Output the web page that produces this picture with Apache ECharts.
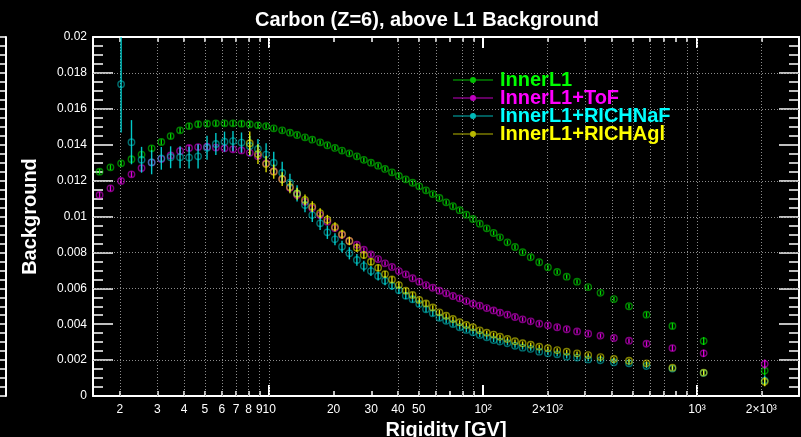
<!DOCTYPE html>
<html><head><meta charset="utf-8">
<script src="https://cdn.jsdelivr.net/npm/echarts@6/dist/echarts.min.js"></script>
<style>html,body{margin:0;padding:0;background:#000}#c{width:801px;height:437px}</style>
</head><body><div id="c"></div>
<script>
// ---------- DATA ----------
const rigidity = [
  1.61,1.81,2.03,2.27,2.53,2.82,3.13,3.46,3.83,4.22,
  4.65,5.12,5.63,6.18,6.77,7.42,8.11,8.86,9.67,10.5,
  11.5,12.5,13.5,14.7,15.9,17.3,18.7,20.3,21.9,23.7,
  25.7,27.7,29.9,32.3,34.8,37.5,40.4,43.5,46.8,50.3,
  54.1,58.2,62.5,67.2,72.3,77.7,83.5,89.7,96.5,104,
  112,120,130,141,153,167,183,201,222,246,
  275,310,354,409,481,581,768,1075,2074];

const bgInnerL1 = [
  0.01250,0.01274,0.01296,0.01319,0.01345,0.01380,0.01415,0.01448,0.01480,0.01504,
  0.01514,0.01517,0.01519,0.01519,0.01519,0.01517,0.01514,0.01508,0.01503,0.01491,
  0.01480,0.01467,0.01454,0.01441,0.01428,0.01413,0.01397,0.01382,0.01367,0.01352,
  0.01335,0.01316,0.01300,0.01283,0.01265,0.01246,0.01226,0.01207,0.01188,0.01168,
  0.01146,0.01125,0.01103,0.01079,0.01057,0.01035,0.01010,0.00986,0.00960,0.00934,
  0.00908,0.00884,0.00856,0.00830,0.00801,0.00773,0.00745,0.00717,0.00691,0.00665,
  0.00637,0.00607,0.00575,0.00540,0.00500,0.00453,0.00390,0.00306,0.00141];
const errInnerL1 = [
  0.00015,0.00015,0.00015,0.00015,0.00015,0.00015,0.00015,0.00015,0.00015,0.00015,
  0.00015,0.00015,0.00015,0.00015,0.00015,0.00015,0.00015,0.00015,0.00012,0.00012,
  0.00012,0.00012,0.00012,0.00012,0.00012,0.00012,0.00012,0.00012,0.00012,0.00012,
  0.00012,0.00012,0.00012,0.00012,0.00012,0.00012,0.00012,0.00012,0.00012,0.00012,
  0.00012,0.00012,0.00012,0.00012,0.00012,0.00012,0.00012,0.00012,0.00012,0.00012,
  0.00012,0.00012,0.00012,0.00012,0.00012,0.00012,0.00012,0.00012,0.00012,0.00012,
  0.00012,0.00012,0.00012,0.00012,0.00013,0.00014,0.00016,0.00022,0.00025];

const bgToF = [
  0.01120,0.01157,0.01198,0.01235,0.01270,0.01301,0.01320,0.01340,0.01365,0.01382,
  0.01387,0.01389,0.01384,0.01380,0.01374,0.01368,0.01355,0.01336,0.01296,0.01252,
  0.01209,0.01160,0.01120,0.01082,0.01046,0.01008,0.00971,0.00934,0.00897,0.00864,
  0.00843,0.00815,0.00789,0.00763,0.00739,0.00719,0.00696,0.00678,0.00656,0.00637,
  0.00618,0.00603,0.00587,0.00572,0.00557,0.00544,0.00529,0.00514,0.00503,0.00490,
  0.00477,0.00464,0.00453,0.00440,0.00427,0.00416,0.00403,0.00394,0.00383,0.00372,
  0.00360,0.00347,0.00336,0.00323,0.00308,0.00291,0.00267,0.00238,0.00178];
const errToF = [
  0.00016,0.00016,0.00016,0.00016,0.00016,0.00016,0.00016,0.00016,0.00016,0.00016,
  0.00016,0.00016,0.00016,0.00016,0.00016,0.00016,0.00016,0.00016,0.00014,0.00014,
  0.00013,0.00013,0.00013,0.00012,0.00012,0.00012,0.00012,0.00012,0.00012,0.00012,
  0.00012,0.00012,0.00012,0.00012,0.00012,0.00012,0.00012,0.00012,0.00012,0.00012,
  0.00012,0.00012,0.00012,0.00012,0.00012,0.00012,0.00012,0.00012,0.00012,0.00012,
  0.00012,0.00012,0.00012,0.00012,0.00012,0.00012,0.00012,0.00012,0.00012,0.00012,
  0.00012,0.00012,0.00012,0.00013,0.00013,0.00014,0.00016,0.00020,0.00026];

const bgNaF = [
  null,null,0.01737,0.01414,0.01316,0.01302,0.01324,0.01330,0.01330,0.01328,
  0.01335,0.01383,0.01404,0.01417,0.01420,0.01412,0.01393,0.01376,0.01345,0.01300,
  0.01244,0.01188,0.01129,0.01064,0.01008,0.00962,0.00912,0.00873,0.00832,0.00795,
  0.00758,0.00724,0.00696,0.00669,0.00642,0.00614,0.00589,0.00559,0.00539,0.00513,
  0.00483,0.00461,0.00436,0.00419,0.00401,0.00383,0.00368,0.00355,0.00340,0.00327,
  0.00312,0.00303,0.00294,0.00280,0.00269,0.00262,0.00247,0.00238,0.00232,0.00219,
  0.00214,0.00204,0.00199,0.00188,0.00182,0.00167,0.00153,0.00128,0.00086];
const errNaF = [
  null,null,0.00269,0.00123,0.00072,0.00067,0.00063,0.00061,0.00061,0.00061,
  0.00067,0.00067,0.00061,0.00056,0.00056,0.00056,0.00056,0.00056,0.00063,0.00061,
  0.00061,0.00050,0.00045,0.00040,0.00039,0.00037,0.00037,0.00033,0.00033,0.00034,
  0.00033,0.00030,0.00028,0.00025,0.00025,0.00022,0.00020,0.00020,0.00018,0.00017,
  0.00016,0.00015,0.00015,0.00014,0.00014,0.00013,0.00013,0.00012,0.00012,0.00012,
  0.00011,0.00011,0.00011,0.00011,0.00010,0.00010,0.00010,0.00010,0.00010,0.00010,
  0.00010,0.00010,0.00010,0.00010,0.00010,0.00011,0.00012,0.00015,0.00028];

const bgAgl = [
  null,null,null,null,null,null,null,null,null,null,
  null,null,null,null,null,null,0.01408,0.01348,0.01292,0.01250,
  0.01208,0.01164,0.01127,0.01092,0.01055,0.01018,0.00982,0.00942,0.00901,0.00864,
  0.00826,0.00786,0.00748,0.00714,0.00679,0.00649,0.00618,0.00587,0.00563,0.00535,
  0.00516,0.00493,0.00466,0.00447,0.00429,0.00411,0.00396,0.00383,0.00366,0.00353,
  0.00342,0.00330,0.00318,0.00305,0.00294,0.00286,0.00275,0.00266,0.00256,0.00247,
  0.00238,0.00228,0.00217,0.00206,0.00197,0.00182,0.00158,0.00130,0.00080];
const errAgl = [
  null,null,null,null,null,null,null,null,null,null,
  null,null,null,null,null,null,0.00065,0.00055,0.00045,0.00040,
  0.00038,0.00035,0.00033,0.00030,0.00030,0.00028,0.00027,0.00026,0.00025,0.00024,
  0.00022,0.00021,0.00020,0.00019,0.00018,0.00017,0.00016,0.00015,0.00015,0.00014,
  0.00014,0.00013,0.00013,0.00012,0.00012,0.00011,0.00011,0.00011,0.00011,0.00011,
  0.00011,0.00011,0.00010,0.00010,0.00010,0.00010,0.00010,0.00010,0.00010,0.00010,
  0.00010,0.00010,0.00010,0.00010,0.00010,0.00011,0.00012,0.00014,0.00025];

const seriesNames = ['InnerL1','InnerL1+ToF','InnerL1+RICHNaF','InnerL1+RICHAgl'];
const xTickValues = [2,3,4,5,6,7,8,9,10,20,30,40,50,60,70,80,90,100,200,300,400,500,600,700,800,900,1000,2000];
const xMajorTickValues = [10,100,1000];
const xLabelValues = [2,3,4,5,6,7,8,9,10,20,30,40,50,100,200,1000,2000];
const xLabelTexts = ['2','3','4','5','6','7','8','9','10','20','30','40','50','10\u00b2','2\u00d710\u00b2','10\u00b3','2\u00d710\u00b3'];
const xGridValues = [2,3,4,5,6,7,8,9,10,40,50,60,80,90,200,300,400,500,600,700,900,1000,2000];
const yGridValues = [0.002,0.006,0.008,0.010,0.012,0.016,0.018];
const xMin = 1.5, xMax = 3000;
const yMin = 0, yMax = 0.02, yStep = 0.002;

// ---------- STYLE ----------
const FONT = '"Liberation Sans", Arial, Helvetica, sans-serif';
const markColors = ['rgba(0,235,0,0.55)','rgba(235,0,235,0.55)','rgba(0,220,220,0.5)','rgba(235,235,0,0.55)'];
const barColors  = ['rgba(0,255,0,0.85)','rgba(255,0,255,0.85)','rgba(0,235,235,0.85)','rgba(255,255,0,0.85)'];
const textColors = ['#00ff00','#ff00ff','#00ffff','#ffff00'];
const iconColors = ['#00c000','#c000c0','#00b8b8','#b8b800'];

const L = v => Math.log10(v);
function overlayX(extra) {
  const base = {type:'value', min:L(xMin), max:L(xMax),
    axisLine:{show:false, onZero:false}, axisTick:{show:false}, axisLabel:{show:false}, splitLine:{show:false}};
  return Object.assign(base, extra);
}
const whiteLine = {show:true, onZero:false, lineStyle:{color:'#fff', width:2}};

function makeRender(mark, bar) {
  return function (params, api) {
    const x = api.value(0), y = api.value(1), e = api.value(2);
    const c = api.coord([x, y]), t = api.coord([x, y + e]), b = api.coord([x, y - e]);
    return {type:'group', children:[
      {type:'line', shape:{x1:c[0], y1:t[1], x2:c[0], y2:b[1]}, style:{stroke:bar, lineWidth:1.4}},
      {type:'circle', shape:{cx:c[0], cy:c[1], r:3.2}, style:{fill:'rgba(0,0,0,0)', stroke:mark, lineWidth:1.4}}
    ]};
  };
}
const values = [bgInnerL1, bgToF, bgNaF, bgAgl];
const errors = [errInnerL1, errToF, errNaF, errAgl];
const dataSeries = seriesNames.map((name, k) => ({
  name, type:'custom', xAxisIndex:0, yAxisIndex:0, clip:true, z:3,
  itemStyle:{color:iconColors[k]},
  encode:{x:0, y:1},
  data: rigidity.map((r, i) => values[k][i] == null ? null : [r, values[k][i], errors[k][i]]).filter(d => d),
  renderItem: makeRender(markColors[k], barColors[k])
}));

// dotted grid lines drawn through the axes' scales
const gridSeries = {
  name:'grid', type:'custom', xAxisIndex:0, yAxisIndex:0, silent:true, z:1,
  data: xGridValues.map(v => [v, yMin, 0]).concat(yGridValues.map(v => [xMin, v, 1])),
  renderItem: function (params, api) {
    const a = api.value(0), b = api.value(1), kind = api.value(2);
    let p1, p2;
    if (kind === 0) { p1 = api.coord([a, yMin]); p2 = api.coord([a, yMax]); const x = Math.round(p1[0]) + 0.5; p1[0] = x; p2[0] = x; }
    else { p1 = api.coord([xMin, b]); p2 = api.coord([xMax, b]); const y = Math.round(p1[1]) + 0.5; p1[1] = y; p2[1] = y; }
    return {type:'line', shape:{x1:p1[0], y1:p1[1], x2:p2[0], y2:p2[1]},
      style:{stroke:'#8c8c8c', lineWidth:1, lineDash:[1,2]}};
  }
};

const legendIcon = 'path://M0,4.5L40,4.5L40,5.5L0,5.5Z M17,5A3,3 0 1,1 23,5A3,3 0 1,1 17,5Z';

const chart = echarts.init(document.getElementById('c'), null, {renderer:'canvas'});
chart.setOption({
  backgroundColor:'#000',
  animation:false,
  title:{text:'Carbon (Z=6), above L1 Background', left:250, top:5,
    textStyle:{color:'#fff', fontSize:20, fontWeight:'bold', fontFamily:FONT}},
  legend:{orient:'vertical', left:453, top:70, padding:0, itemGap:-2, itemWidth:40, itemHeight:10,
    selectedMode:false, icon:legendIcon,
    textStyle:{fontSize:20, fontWeight:'bold', fontFamily:FONT, lineHeight:18, padding:[0,0,0,2]},
    data: seriesNames.map((n, i) => ({name:n, textStyle:{color:textColors[i]}, itemStyle:{color:iconColors[i]}}))},
  grid:{left:93, right:2, top:37, bottom:41, containLabel:false, outerBoundsMode:'none'},
  xAxis:[
    {type:'log', logBase:10, min:xMin, max:xMax, show:false},
    overlayX({position:'bottom', axisLine:whiteLine,
      axisTick:{show:true, inside:true, length:5, customValues:xTickValues.map(L), lineStyle:{color:'#fff', width:1.5}},
      axisLabel:{show:true, customValues:xLabelValues.map(L), color:'#fff', fontSize:12, fontFamily:FONT, margin:8,
        formatter:(v) => { const i = xLabelValues.findIndex(t => Math.abs(L(t) - v) < 1e-6); return i >= 0 ? xLabelTexts[i] : ''; }},
      name:'Rigidity [GV]', nameLocation:'middle', nameGap:18,
      nameTextStyle:{color:'#fff', fontSize:20, fontWeight:'bold', fontFamily:FONT}}),
    overlayX({position:'bottom',
      axisTick:{show:true, inside:true, length:11, customValues:xMajorTickValues.map(L), lineStyle:{color:'#fff', width:2}}}),
    overlayX({position:'top', axisLine:whiteLine,
      axisTick:{show:true, inside:true, length:5, customValues:xTickValues.map(L), lineStyle:{color:'#fff', width:1.5}}}),
    overlayX({position:'top',
      axisTick:{show:true, inside:true, length:11, customValues:xMajorTickValues.map(L), lineStyle:{color:'#fff', width:2}}})
  ],
  yAxis:[
    {type:'value', position:'left', min:yMin, max:yMax, interval:yStep,
      axisLine:whiteLine,
      axisTick:{show:true, inside:true, length:20, lineStyle:{color:'#fff', width:1.5}},
      minorTick:{show:true, splitNumber:4, length:10, lineStyle:{color:'#fff', width:1.5}},
      axisLabel:{color:'#fff', fontSize:12, fontFamily:FONT, margin:6},
      splitLine:{show:false},
      name:'Background', nameLocation:'middle', nameGap:53,
      nameTextStyle:{color:'#fff', fontSize:20, fontWeight:'bold', fontFamily:FONT}},
    {type:'value', position:'right', min:yMin, max:yMax, interval:yStep,
      axisLine:whiteLine,
      axisTick:{show:true, inside:true, length:20, lineStyle:{color:'#fff', width:1.5}},
      minorTick:{show:true, splitNumber:4, length:10, lineStyle:{color:'#fff', width:1.5}},
      axisLabel:{show:false}, splitLine:{show:false}},
    {type:'value', position:'left', offset:87, min:yMin, max:yMax, interval:yStep,
      axisLine:whiteLine,
      axisTick:{show:true, inside:false, length:20, lineStyle:{color:'#fff', width:1.5}},
      minorTick:{show:true, splitNumber:4, length:10, lineStyle:{color:'#fff', width:1.5}},
      axisLabel:{show:false}, splitLine:{show:false}}
  ],
  series: [gridSeries].concat(dataSeries)
});
</script></body></html>
